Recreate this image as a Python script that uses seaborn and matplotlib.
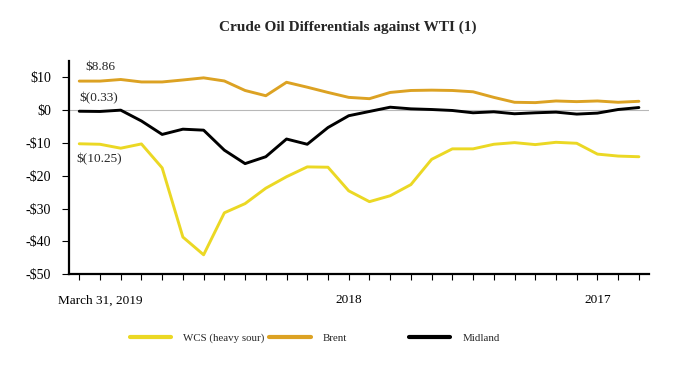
"""
Crude oil differentials against WTI - line chart.
"""

import pandas as pd
import matplotlib
matplotlib.use('Agg')
import matplotlib.pyplot as plt
from matplotlib.lines import Line2D
import seaborn as sns

# Data (monthly, newest first)
WCS = [-10.25, -10.4, -11.6, -10.3, -17.6, -38.7, -44.1, -31.3, -28.5, -23.8,
       -20.3, -17.3, -17.4, -24.6, -27.9, -26.1, -22.7, -15.0, -11.8, -11.8,
       -10.4, -9.9, -10.5, -9.8, -10.1, -13.4, -14.0, -14.2]
BRENT = [8.86, 8.86, 9.35, 8.6, 8.6, 9.2, 9.85, 8.9, 6.0, 4.4,
         8.5, 7.0, 5.4, 3.9, 3.5, 5.4, 6.0, 6.1, 6.0, 5.6,
         3.9, 2.4, 2.3, 2.8, 2.6, 2.8, 2.4, 2.7]
MIDLAND = [-0.33, -0.4, 0.0, -3.3, -7.4, -5.8, -6.1, -12.2, -16.3, -14.2,
           -8.8, -10.4, -5.3, -1.7, -0.4, 0.9, 0.4, 0.2, -0.1, -0.8,
           -0.5, -1.1, -0.8, -0.6, -1.2, -0.9, 0.2, 0.8]
SERIES = ['WCS (heavy sour)', 'Brent', 'Midland']
X_LABELS = {1: 'March 31, 2019', 13: '2018', 25: '2017'}
Y_TICKS = [10, 0, -10, -20, -30, -40, -50]

COLORS = {
    'WCS (heavy sour)': '#EBD824',
    'Brent': '#DCA223',
    'Midland': '#000000',
}

n = len(WCS)
df = pd.DataFrame({
    'idx': list(range(n)) * 3,
    'value': WCS + BRENT + MIDLAND,
    'series': [SERIES[0]] * n + [SERIES[1]] * n + [SERIES[2]] * n,
})

sns.set_style('ticks')
plt.rcParams['font.family'] = ['Liberation Serif', 'DejaVu Serif']

fig = plt.figure(figsize=(6.82, 3.74), dpi=100)
ax = fig.add_axes([0.101, 0.267, 0.851, 0.570])

sns.lineplot(data=df, x='idx', y='value', hue='series', palette=COLORS,
             hue_order=SERIES, linewidth=2.1, legend=False, sort=False, ax=ax)

ax.axhline(0, color='#b8b8b8', linewidth=0.8, zorder=0)

ax.set_xlim(-0.5, 27.5)
ax.set_ylim(-50, 15)
ax.set_xticks(range(n))
ax.set_xticklabels([X_LABELS.get(i, '') for i in range(n)], fontsize=9.5)
ax.set_yticks(Y_TICKS)
ax.set_yticklabels([f'${v}' if v >= 0 else f'-${-v}' for v in Y_TICKS], fontsize=10)
ax.tick_params(axis='x', length=4.5, width=0.8, pad=10, colors='black')
ax.tick_params(axis='y', length=5, width=0.8, pad=8, colors='black')
ax.set_xlabel('')
ax.set_ylabel('')

for s in ['top', 'right']:
    ax.spines[s].set_visible(False)
for s in ['left', 'bottom']:
    ax.spines[s].set_color('black')
    ax.spines[s].set_linewidth(1.6)

# value labels at the first point
ax.annotate('$8.86', xy=(0, BRENT[0]), xytext=(15.5, 10), textcoords='offset points',
            ha='center', va='center', fontsize=9.5)
ax.annotate('$(0.33)', xy=(0, MIDLAND[0]), xytext=(14, 9.4), textcoords='offset points',
            ha='center', va='center', fontsize=9.5)
ax.annotate('$(10.25)', xy=(0, WCS[0]), xytext=(14.4, -11), textcoords='offset points',
            ha='center', va='center', fontsize=9.5)

fig.suptitle('Crude Oil Differentials against WTI (1)', x=0.51, y=0.928, va='center',
             fontsize=11, fontweight='bold')

# legend: three separate entries for the uneven spacing
legend_pos = [0.19, 0.395, 0.60]
for name, xpos in zip(SERIES, legend_pos):
    h = Line2D([0], [0], color=COLORS[name], linewidth=3)
    leg = fig.legend([h], [name], loc='center left', bbox_to_anchor=(xpos, 0.097),
                     frameon=False, fontsize=7.8, handlelength=3.8, handletextpad=1.1,
                     borderaxespad=0, borderpad=0)

fig.savefig('out.png', dpi=100)
plt.close()
